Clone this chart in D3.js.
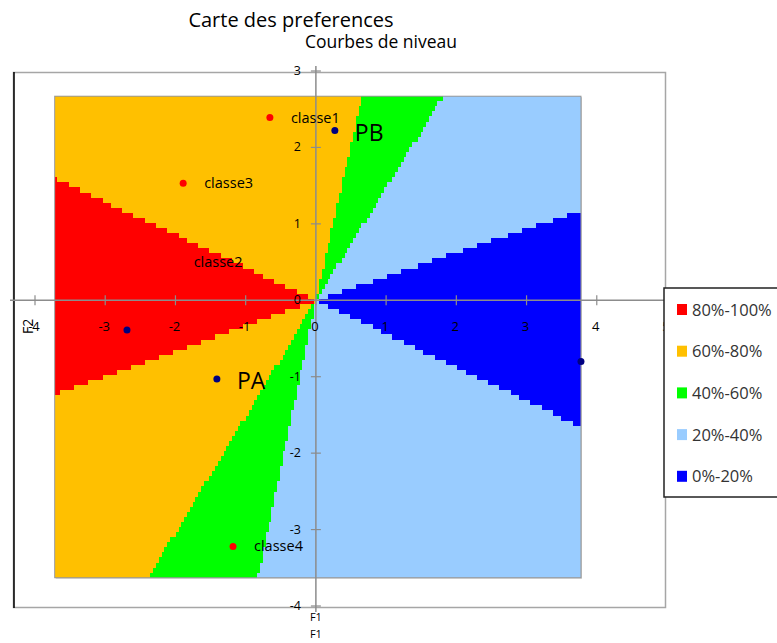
<!DOCTYPE html>
<html><head><meta charset="utf-8">
<script src="https://cdn.jsdelivr.net/npm/d3@7"></script>
<style>body{margin:0;background:#fff;}svg{display:block;}</style>
</head><body>
<svg id="c" width="777" height="643"></svg>
<script>
// ---- data ----
const bandLabels = ["80%-100%", "60%-80%", "40%-60%", "20%-40%", "0%-20%"];
const bandColors = ["#FF0000", "#FFC000", "#00FF00", "#99CCFF", "#0000FF"];
// contour boundaries (angle in degrees, data space) and the band that starts there, counter-clockwise
const boundaryAngles = [17.3, 55.8, 76.2, 156.8, 198.4, 236.7, 257.2, 336.3];
const boundaryBands  = [3, 2, 1, 0, 1, 2, 3, 4];
const gridX = [-3.72, 3.775], gridY = [-3.63, 2.67], gridStep = [0.04, 0.066];
const xTicks = [-4, -3, -2, -1, 0, 1, 2, 3, 4, 5];
const yTicks = [-4, -3, -2, -1, 0, 1, 2, 3];
const classNames = ["classe1", "classe3", "classe2", "classe4"];
const classX = [-0.655, -1.89, -2.04, -1.18];
const classY = [2.39, 1.53, 0.50, -3.22];
const prodNames = ["PB", "PA", "", ""];
const prodX = [0.27, -1.41, -2.69, 3.775];
const prodY = [2.22, -1.03, -0.39, -0.80];

const svg = d3.select("#c");
const x = d3.scaleLinear().domain([-4, 5]).range([35, 667]);
const y = d3.scaleLinear().domain([-4, 3]).range([606, 71]);

// outer frame
svg.append("rect").attr("x", 13.5).attr("y", 72.5).attr("width", 652).attr("height", 535)
  .attr("fill", "none").attr("stroke", "#a6a6a6").attr("stroke-width", 1.5);
svg.append("line").attr("x1", 14).attr("x2", 14).attr("y1", 72).attr("y2", 608)
  .attr("stroke", "#000").attr("stroke-width", 1.5);

// band classification by direction
function band(px, py) {
  let a = Math.atan2(py, px) * 180 / Math.PI; if (a < 0) a += 360;
  let b = boundaryBands[boundaryBands.length - 1];
  for (let i = 0; i < boundaryAngles.length; i++) if (a >= boundaryAngles[i]) b = boundaryBands[i];
  return b;
}
// build column runs of equal band
const runs = [];
const nx = Math.round((gridX[1] - gridX[0]) / gridStep[0]);
const ny = Math.round((gridY[1] - gridY[0]) / gridStep[1]);
for (let i = 0; i < nx; i++) {
  const x0 = gridX[0] + i * (gridX[1] - gridX[0]) / nx, x1 = gridX[0] + (i + 1) * (gridX[1] - gridX[0]) / nx;
  let cur = null;
  for (let j = 0; j < ny; j++) {
    const y0 = gridY[0] + j * (gridY[1] - gridY[0]) / ny, y1 = gridY[0] + (j + 1) * (gridY[1] - gridY[0]) / ny;
    const b = band((x0 + x1) / 2, (y0 + y1) / 2);
    if (cur && cur.b === b) cur.y1 = y1;
    else { cur = {x0, x1, y0, y1, b}; runs.push(cur); }
  }
}
const plot = svg.append("g");
plot.append("rect").attr("x", x(gridX[0]) + 1).attr("y", y(gridY[1]) + 1)
  .attr("width", x(gridX[1]) - x(gridX[0])).attr("height", y(gridY[0]) - y(gridY[1]))
  .attr("fill", "#c8c8c8");
plot.selectAll("rect.cell").data(runs).join("rect").attr("class", "cell")
  .attr("x", d => Math.round(x(d.x0))).attr("y", d => Math.round(y(d.y1)))
  .attr("width", d => Math.round(x(d.x1)) - Math.round(x(d.x0)))
  .attr("height", d => Math.round(y(d.y0)) - Math.round(y(d.y1)))
  .attr("fill", d => bandColors[d.b]).attr("shape-rendering", "crispEdges");
plot.append("rect").attr("x", x(gridX[0])).attr("y", y(gridY[1]))
  .attr("width", x(gridX[1]) - x(gridX[0])).attr("height", y(gridY[0]) - y(gridY[1]))
  .attr("fill", "none").attr("stroke", "#999").attr("stroke-width", 1);

// axes
const axisCol = "#8c8c8c";
svg.append("line").attr("x1", 10).attr("x2", 665).attr("y1", y(0)).attr("y2", y(0)).attr("stroke", axisCol).attr("stroke-width", 1.5);
svg.append("line").attr("x1", x(0)).attr("x2", x(0)).attr("y1", 66).attr("y2", 612).attr("stroke", axisCol).attr("stroke-width", 1.5);
svg.selectAll("line.xt").data(xTicks).join("line").attr("class", "xt")
  .attr("x1", d => x(d)).attr("x2", d => x(d)).attr("y1", y(0) - 5).attr("y2", y(0) + 5)
  .attr("stroke", axisCol).attr("stroke-width", 1.2);
svg.selectAll("line.yt").data(yTicks).join("line").attr("class", "yt")
  .attr("x1", x(0) - 5).attr("x2", x(0) + 5).attr("y1", d => y(d)).attr("y2", d => y(d))
  .attr("stroke", axisCol).attr("stroke-width", 1.2);
const fnt = "'Open Sans', 'Liberation Sans', sans-serif";
svg.selectAll("text.xl").data(xTicks).join("text").attr("class", "xl")
  .attr("x", d => x(d) - 1).attr("y", y(0) + 31).attr("text-anchor", "middle")
  .attr("font-family", fnt).attr("font-size", 13).attr("fill", "#000").text(d => String(d));
svg.selectAll("text.yl").data(yTicks).join("text").attr("class", "yl")
  .attr("x", x(0) - 15).attr("y", d => y(d) + 4).attr("text-anchor", "end")
  .attr("font-family", fnt).attr("font-size", 12.5).attr("fill", "#000").text(d => String(d));

// axis titles
svg.append("text").attr("transform", `translate(33,${y(0) + 26}) rotate(-90)`).attr("text-anchor", "middle")
  .attr("font-family", fnt).attr("font-size", 14).attr("fill", "#000").text("F2");
svg.append("text").attr("x", x(0)).attr("y", 621).attr("text-anchor", "middle")
  .attr("font-family", fnt).attr("font-size", 11).attr("fill", "#000").text("F1");
svg.append("text").attr("x", x(0)).attr("y", 638).attr("text-anchor", "middle")
  .attr("font-family", fnt).attr("font-size", 11).attr("fill", "#000").text("F1");

// titles
svg.append("text").attr("x", 291).attr("y", 27).attr("text-anchor", "middle")
  .attr("font-family", fnt).attr("font-size", 20).attr("fill", "#000").text("Carte des preferences");
svg.append("text").attr("x", 381).attr("y", 48).attr("text-anchor", "middle")
  .attr("font-family", fnt).attr("font-size", 17.5).attr("fill", "#000").text("Courbes de niveau");

// class points
svg.selectAll("circle.cl").data(classNames).join("circle").attr("class", "cl")
  .attr("cx", (d, i) => x(classX[i])).attr("cy", (d, i) => y(classY[i])).attr("r", 3.5).attr("fill", "#FF0000");
svg.selectAll("text.cl").data(classNames).join("text").attr("class", "cl")
  .attr("x", (d, i) => x(classX[i]) + 21).attr("y", (d, i) => y(classY[i]) + 5)
  .attr("font-family", fnt).attr("font-size", 14.5).attr("fill", "#000").text(d => d);
// product points
svg.selectAll("circle.pr").data(prodNames).join("circle").attr("class", "pr")
  .attr("cx", (d, i) => x(prodX[i])).attr("cy", (d, i) => y(prodY[i])).attr("r", 3.5).attr("fill", "#000080");
svg.selectAll("text.pr").data(prodNames).join("text").attr("class", "pr")
  .attr("x", (d, i) => x(prodX[i]) + 20).attr("y", (d, i) => y(prodY[i]) + 10)
  .attr("font-family", fnt).attr("font-size", 23).attr("fill", "#000").text(d => d);

// legend
const lg = svg.append("g");
lg.append("rect").attr("x", 664).attr("y", 288).attr("width", 130).attr("height", 209)
  .attr("fill", "#fff").attr("stroke", "#222").attr("stroke-width", 1.5);
lg.selectAll("rect.sw").data(bandLabels).join("rect").attr("class", "sw")
  .attr("x", 677).attr("y", (d, i) => 304 + i * 41.7).attr("width", 10).attr("height", 11)
  .attr("fill", (d, i) => bandColors[i]);
lg.selectAll("text.lt").data(bandLabels).join("text").attr("class", "lt")
  .attr("x", 692).attr("y", (d, i) => 315.5 + i * 41.7)
  .attr("font-family", fnt).attr("font-size", 16.5).attr("fill", "#333").text(d => d);
</script>
</body></html>
